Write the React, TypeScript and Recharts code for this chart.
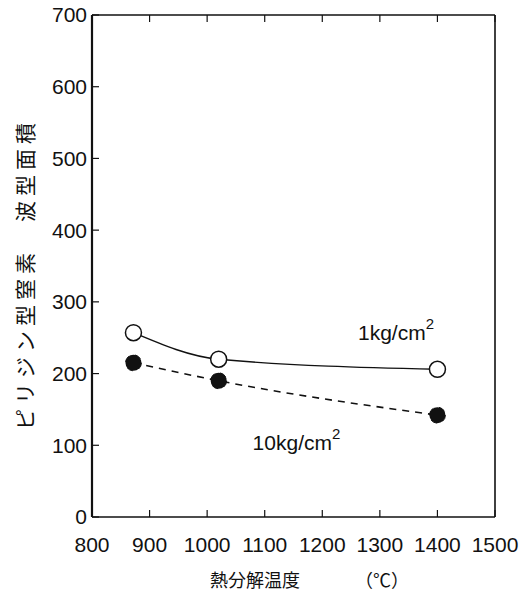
import React from 'react';
import { LineChart, Line, XAxis, YAxis, ReferenceDot } from 'recharts';

// 熱分解温度 (℃)
const temps = [872, 1020, 1400];
// 1kg/cm2 の波型面積
const area1kg = [257, 220, 206];
// 10kg/cm2 の波型面積
const area10kg = [215, 190, 142];

const xTicks = [800, 900, 1000, 1100, 1200, 1300, 1400, 1500];
const yTicks = [0, 100, 200, 300, 400, 500, 600, 700];

const seriesNotes = [
  { text: '1kg/cm', x: 1262, y: 247 },
  { text: '10kg/cm', x: 1079, y: 93 },
];

const data = temps.map((t, i) => ({ t, a1: area1kg[i], a10: area10kg[i] }));

const numFont = '"Liberation Sans", Arial, sans-serif';
const jpFont = '"Noto Sans CJK JP", sans-serif';

const noteLabel = (text: string) => (props: any) => {
  const vb = props.viewBox || {};
  return (
    <text x={vb.x} y={vb.y} fontFamily={numFont} fontSize={21} fill="#111">
      {text}
      <tspan dy={-11} fontSize={15}>2</tspan>
    </text>
  );
};

const xLabel = (props: any) => {
  const vb = props.viewBox || {};
  return (
    <text y={vb.y + 70} fontFamily={jpFont} fontSize={18} fill="#111">
      <tspan x={210}>熱分解温度</tspan>
      <tspan x={355}>（℃）</tspan>
    </text>
  );
};

const yLabel = (props: any) => {
  const vb = props.viewBox || {};
  const cx = 24;
  const cy = vb.y + 259;
  return (
    <text
      x={cx}
      y={cy}
      transform={`rotate(-90 ${cx} ${cy})`}
      textAnchor="middle"
      dominantBaseline="central"
      fontFamily={jpFont}
      fontSize={21}
      letterSpacing={5}
      fill="#111"
    >
      ピリジン型窒素　波型面積
    </text>
  );
};

// top / right frame axes: tick marks only, no labels
const noTickText = () => <g />;

export default function App() {
  const tickStyle = { fontFamily: numFont, fontSize: 21, fill: '#111' };
  const axisLine = { stroke: '#111', strokeWidth: 1.6 };
  const tickLine = { stroke: '#111', strokeWidth: 1.2 };
  return (
    <div style={{ position: 'absolute', left: 0, top: 0, width: 527, height: 593, background: '#fff' }}>
      <LineChart width={527} height={593} data={data} margin={{ top: 14, right: 31, bottom: 0, left: 0 }}>
        <XAxis
          dataKey="t"
          type="number"
          domain={[800, 1500]}
          ticks={xTicks}
          interval={0}
          height={76}
          tick={tickStyle}
          tickSize={-7}
          tickMargin={27}
          axisLine={axisLine}
          tickLine={tickLine}
          label={xLabel}
        />
        <XAxis
          xAxisId="top"
          orientation="top"
          dataKey="t"
          type="number"
          domain={[800, 1500]}
          ticks={xTicks}
          interval={0}
          height={1}
          tick={noTickText}
          tickSize={-7}
          axisLine={axisLine}
          tickLine={tickLine}
        />
        <YAxis
          type="number"
          domain={[0, 700]}
          ticks={yTicks}
          interval={0}
          width={92}
          tick={tickStyle}
          tickSize={-7}
          tickMargin={12}
          axisLine={{ stroke: '#111', strokeWidth: 2.2 }}
          tickLine={tickLine}
          label={yLabel}
        />
        <YAxis
          yAxisId="right"
          orientation="right"
          type="number"
          domain={[0, 700]}
          ticks={yTicks}
          interval={0}
          width={1}
          tick={noTickText}
          tickSize={-7}
          axisLine={axisLine}
          tickLine={tickLine}
        />
        <Line
          type="monotone"
          dataKey="a1"
          stroke="#111"
          strokeWidth={1.4}
          dot={{ r: 8, fill: '#fff', stroke: '#111', strokeWidth: 1.5 }}
          activeDot={false}
          isAnimationActive={false}
        />
        <Line
          type="monotone"
          dataKey="a10"
          stroke="#111"
          strokeWidth={1.6}
          strokeDasharray="7 6"
          dot={{ r: 8, fill: '#111', stroke: '#111', strokeWidth: 1 }}
          activeDot={false}
          isAnimationActive={false}
        />
        {seriesNotes.map((n) => (
          <ReferenceDot key={n.text} x={n.x} y={n.y} r={0} ifOverflow="visible" label={noteLabel(n.text)} />
        ))}
      </LineChart>
    </div>
  );
}
